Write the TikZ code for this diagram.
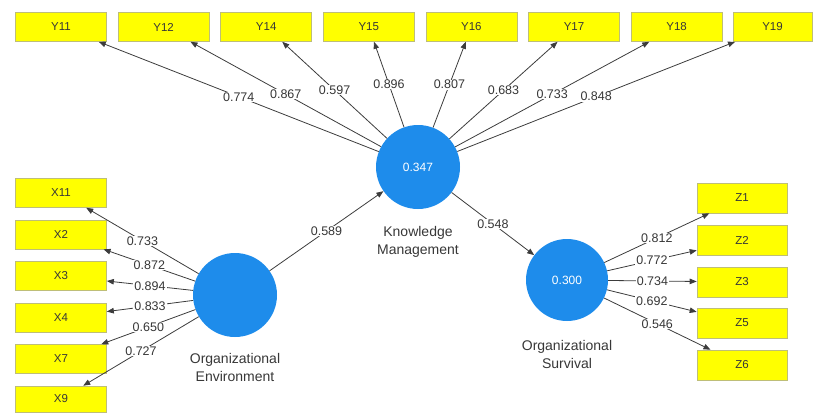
\documentclass[tikz,border=0pt]{standalone}
\usepackage{fontspec}
\setmainfont{Liberation Sans}
\usetikzlibrary{arrows.meta}
\definecolor{lvblue}{RGB}{30,140,235}
\definecolor{indyellow}{RGB}{255,255,0}
\definecolor{indedge}{RGB}{190,190,120}
\definecolor{pathgray}{RGB}{60,60,60}
\definecolor{txtgray}{RGB}{55,55,55}
\begin{document}
\begin{tikzpicture}[x=1pt,y=-1pt,
  indicator/.style={draw=indedge, line width=0.6pt, fill=indyellow,
    minimum width=91pt, minimum height=29pt, inner sep=0pt,
    font=\fontsize{11.5}{13}\selectfont, text=txtgray},
  latent/.style={circle, fill=lvblue, minimum size=84pt, inner sep=0pt,
    font=\fontsize{12}{14}\selectfont, text=white},
  lvname/.style={align=center, font=\fontsize{14}{18}\selectfont, text=txtgray},
  path/.style={draw=pathgray, line width=0.8pt, -{Triangle[length=7pt,width=5.5pt]}},
  coef/.style={midway, fill=white, inner xsep=1pt, inner ysep=0.5pt,
    font=\fontsize{12.5}{14}\selectfont, text=txtgray}]

\useasboundingbox (0,0) rectangle (813,412);

% latent variables
\node[latent] (km) at (418,167) {0.347};
\node[latent] (oe) at (235,295) {};
\node[latent, minimum size=82pt] (os) at (567,280) {0.300};

\node[lvname] (kmname) at (418,242) {Knowledge\\Management};
\node[lvname] (oename) at (235,367) {Organizational\\Environment};
\node[lvname] (osname) at (567,354) {Organizational\\Survival};

% indicators of Knowledge Management
\node[indicator] (y11) at (61,27) {Y11};
\node[indicator] (y12) at (163.6,27) {Y12};
\node[indicator] (y14) at (266.2,27) {Y14};
\node[indicator] (y15) at (368.8,27) {Y15};
\node[indicator] (y16) at (471.4,27) {Y16};
\node[indicator] (y17) at (574,27) {Y17};
\node[indicator] (y18) at (676.6,27) {Y18};
\node[indicator, minimum width=79pt] (y19) at (772.5,27) {Y19};

% indicators of Organizational Environment
\node[indicator] (x11) at (61,193) {X11};
\node[indicator] (x2) at (61,234.5) {X2};
\node[indicator] (x3) at (61,276) {X3};
\node[indicator] (x4) at (61,317.5) {X4};
\node[indicator] (x7) at (61,359) {X7};
\node[indicator, minimum height=26pt] (x9) at (61,399) {X9};

% indicators of Organizational Survival
\node[indicator, minimum width=90pt, minimum height=30pt] (z1) at (742,198) {Z1};
\node[indicator, minimum width=90pt, minimum height=30pt] (z2) at (742,240) {Z2};
\node[indicator, minimum width=90pt, minimum height=30pt] (z3) at (742,282) {Z3};
\node[indicator, minimum width=90pt, minimum height=30pt] (z5) at (742,323) {Z5};
\node[indicator, minimum width=90pt, minimum height=30pt] (z6) at (742,365) {Z6};

% outer loadings
\draw[path] (km) -- node[coef] {0.774} (y11);
\draw[path] (km) -- node[coef] {0.867} (y12);
\draw[path] (km) -- node[coef] {0.597} (y14);
\draw[path] (km) -- node[coef] {0.896} (y15);
\draw[path] (km) -- node[coef] {0.807} (y16);
\draw[path] (km) -- node[coef] {0.683} (y17);
\draw[path] (km) -- node[coef] {0.733} (y18);
\draw[path] (km) -- node[coef] {0.848} (y19);

\draw[path] (oe) -- node[coef] {0.733} (x11);
\draw[path] (oe) -- node[coef] {0.872} (x2);
\draw[path] (oe) -- node[coef] {0.894} (x3);
\draw[path] (oe) -- node[coef] {0.833} (x4);
\draw[path] (oe) -- node[coef] {0.650} (x7);
\draw[path] (oe) -- node[coef] {0.727} (x9);

\draw[path] (os) -- node[coef] {0.812} (z1);
\draw[path] (os) -- node[coef] {0.772} (z2);
\draw[path] (os) -- node[coef] {0.734} (z3);
\draw[path] (os) -- node[coef] {0.692} (z5);
\draw[path] (os) -- node[coef] {0.546} (z6);

% structural paths
\draw[path] (oe) -- node[coef] {0.589} (km);
\draw[path] (km) -- node[coef] {0.548} (os);
\end{tikzpicture}
\end{document}
